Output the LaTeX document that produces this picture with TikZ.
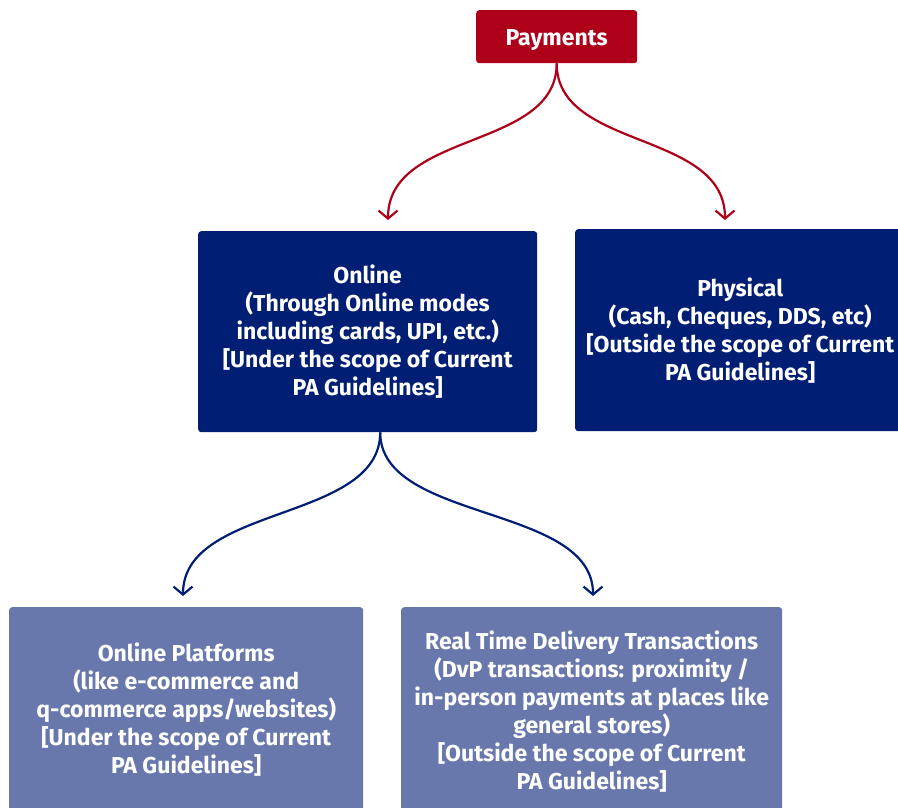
\documentclass[tikz,border=0pt]{standalone}
\usepackage{fontspec}
\setmainfont{Fira Sans}
\usetikzlibrary{arrows.meta,calc}
\definecolor{payred}{HTML}{AF0019}
\definecolor{navy}{HTML}{001E73}
\definecolor{lightblue}{HTML}{6878AD}
\begin{document}
\begin{tikzpicture}[x=1pt,y=-1pt,
  box/.style={rectangle, rounded corners=3pt, inner sep=0pt, text=white,
    font=\bfseries\fontsize{23}{28}\selectfont, align=center, anchor=north west},
  conn/.style={line width=2.2pt, -{Straight Barb[length=8pt,width=19pt,line width=2.2pt]}}]
\useasboundingbox (0,0) rectangle (898,807);
\node[box, fill=payred, minimum width=161pt, minimum height=53pt, text height=17pt, text depth=0pt] (pay) at (476,10) {Payments};
\node[box, fill=navy, minimum width=339pt, minimum height=201pt] (online) at (198,231)
  {Online\\(Through Online modes\\including cards, UPI, etc.)\\{[}Under the scope of Current\\PA Guidelines]};
\node[box, fill=navy, minimum width=330pt, minimum height=202pt] (physical) at (575,229)
  {Physical\\(Cash, Cheques, DDS, etc)\\{[}Outside the scope of Current\\PA Guidelines]};
\node[box, fill=lightblue, minimum width=354pt, minimum height=204pt] (platforms) at (9,607)
  {Online Platforms\\(like e-commerce and\\q-commerce apps/websites)\\{[}Under the scope of Current\\PA Guidelines]};
\node[box, fill=lightblue, minimum width=381pt, minimum height=208pt] (realtime) at (401,607)
  {Real Time Delivery Transactions\\(DvP transactions: proximity /\\in-person payments at places like\\general stores)\\{[}Outside the scope of Current\\PA Guidelines]};
\coordinate (t1) at (388,220);
\coordinate (t2) at (725,220);
\coordinate (s2) at ($(online.south)+(12.5,0)$);
\coordinate (t3) at (183,596);
\coordinate (t4) at (593,596);
\draw[conn, payred] (pay.south) .. controls +(0,87) and +(0,-90) .. (t1);
\draw[conn, payred] (pay.south) .. controls +(0,87) and +(0,-90) .. (t2);
\draw[conn, navy] (s2) .. controls +(0,90) and +(0,-92) .. (t3);
\draw[conn, navy] (s2) .. controls +(0,90) and +(0,-92) .. (t4);
\end{tikzpicture}
\end{document}
